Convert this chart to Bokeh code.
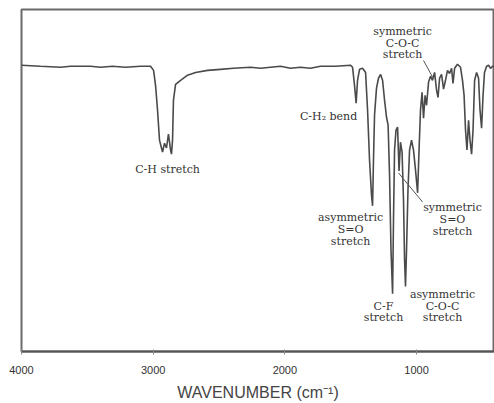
from bokeh.plotting import figure
from bokeh.models import ColumnDataSource, Range1d, FixedTicker
from bokeh.core.properties import value
from bokeh.embed import file_html
from bokeh.resources import INLINE

# IR spectrum (wavenumber in cm^-1, transmittance in arbitrary %)
wavenumber = [4000, 3856, 3704, 3628, 3476, 3400, 3309, 3210, 3096, 3020,
              2997, 2982, 2967, 2952, 2937, 2929, 2914, 2899, 2884, 2868,
              2861, 2853, 2846, 2830, 2792, 2739, 2678, 2587, 2489, 2390,
              2261, 2185, 2109, 2033, 1957, 1881, 1805, 1729, 1615, 1501,
              1486, 1471, 1459, 1448, 1433, 1410, 1387, 1372, 1357, 1342,
              1334, 1327, 1319, 1304, 1289, 1273, 1258, 1243, 1228, 1216,
              1205, 1194, 1182, 1175, 1167, 1156, 1144, 1133, 1122, 1110,
              1099, 1091, 1084, 1076, 1065, 1053, 1038, 1023, 1008, 992,
              981, 970, 958, 947, 935, 924, 909, 894, 879, 863,
              848, 837, 825, 810, 795, 780, 765, 749, 734, 723,
              711, 689, 666, 651, 639, 628, 617, 605, 594, 582,
              571, 559, 544, 529, 518, 506, 495, 484, 468, 453,
              438, 423, 408]
transmittance = [83.7, 83.4, 83.1, 83.4, 83.4, 83.1, 83.4, 83.1, 83.4, 83.4,
                 82.2, 77.8, 70.6, 61.8, 59.5, 58.3, 60.9, 59.5, 63.6, 58.9,
                 57.7, 61.8, 73.5, 78.1, 79.3, 80.8, 81.6, 82.2, 82.5, 82.8,
                 83.1, 82.8, 83.1, 83.4, 82.8, 83.1, 82.8, 83.4, 83.4, 83.7,
                 83.1, 77.8, 72.6, 79.3, 82.5, 82.8, 81.6, 70.6, 56.0, 45.8,
                 42.6, 56.0, 69.1, 77.0, 79.9, 81.0, 79.3, 73.5, 68.5, 66.2,
                 51.6, 29.7, 16.9, 38.5, 58.9, 64.7, 65.6, 52.8, 61.2, 58.3,
                 44.3, 26.8, 19.0, 29.7, 47.2, 58.9, 61.8, 58.9, 53.1, 46.4,
                 58.9, 70.6, 75.8, 68.2, 74.9, 72.0, 78.7, 80.5, 79.3, 81.6,
                 76.4, 74.3, 79.9, 81.0, 76.7, 79.3, 82.2, 81.3, 82.8, 78.4,
                 82.8, 84.0, 83.1, 79.3, 74.9, 64.7, 58.9, 67.6, 61.8, 57.7,
                 64.7, 79.3, 81.6, 79.9, 70.6, 65.3, 74.9, 81.6, 83.4, 83.7,
                 82.8, 83.4, 83.4]

tick_values = [4000, 3000, 2000, 1000]
axis_title = "WAVENUMBER (cm\u207b\u00b9)"

# annotation text lines and their anchor points (data coordinates)
label_text = ["C-H stretch",
              "C-H\u2082 bend",
              "symmetric", "C-O-C", "stretch",
              "asymmetric", "S=O", "stretch",
              "symmetric", "S=O", "stretch",
              "C-F", "stretch",
              "asymmetric", "C-O-C", "stretch"]
label_x = [2891,
           1668,
           1106, 1106, 1106,
           1501, 1501, 1501,
           727, 727, 727,
           1251, 1251,
           803, 803, 803]
label_y = [53.1,
           68.8,
           93.6, 90.1, 86.9,
           39.1, 35.6, 32.1,
           42.0, 38.5, 35.0,
           13.1, 9.9,
           16.6, 13.1, 9.9]

# leader lines for the two "symmetric" annotations
leader_x0 = [947, 1137]
leader_y0 = [85.1, 52.2]
leader_x1 = [878, 954]
leader_y1 = [80.2, 43.7]

p = figure(width=494, height=403, output_backend="svg", toolbar_location=None,
           x_range=Range1d(4000, 408), y_range=Range1d(0, 100),
           min_border_left=21, min_border_right=0, min_border_top=9,
           min_border_bottom=51)
p.background_fill_color = "white"
p.border_fill_color = "white"
p.grid.visible = False
p.yaxis.visible = False
p.outline_line_color = "#6a6a6a"
p.outline_line_width = 2

xa = p.xaxis[0]
xa.ticker = FixedTicker(ticks=tick_values)
xa.axis_line_color = "#555555"
xa.axis_line_width = 2
xa.major_tick_line_color = "#888888"
xa.major_tick_in = 2
xa.major_tick_out = 3
xa.minor_tick_line_color = None
xa.major_label_text_font = "Liberation Sans"
xa.major_label_text_font_size = "11px"
xa.major_label_text_color = "#333333"
xa.major_label_standoff = 11
xa.axis_label = axis_title
xa.axis_label_text_font = "Liberation Sans"
xa.axis_label_text_font_size = "16px"
xa.axis_label_text_font_style = "normal"
xa.axis_label_text_color = "#444444"
xa.axis_label_standoff = 7

p.line(wavenumber, transmittance, line_color="#4a4a4a", line_width=1.6)

p.segment(x0=leader_x0, y0=leader_y0, x1=leader_x1, y1=leader_y1,
          line_color="#555555", line_width=1)

src = ColumnDataSource(dict(x=label_x, y=label_y, text=label_text))
p.text(x="x", y="y", text="text", source=src, text_align="center",
       text_baseline="middle", text_font=value("DejaVu Serif"),
       text_font_size="11px", text_color="#333333")

open("out.html", "w").write(file_html(p, INLINE))
